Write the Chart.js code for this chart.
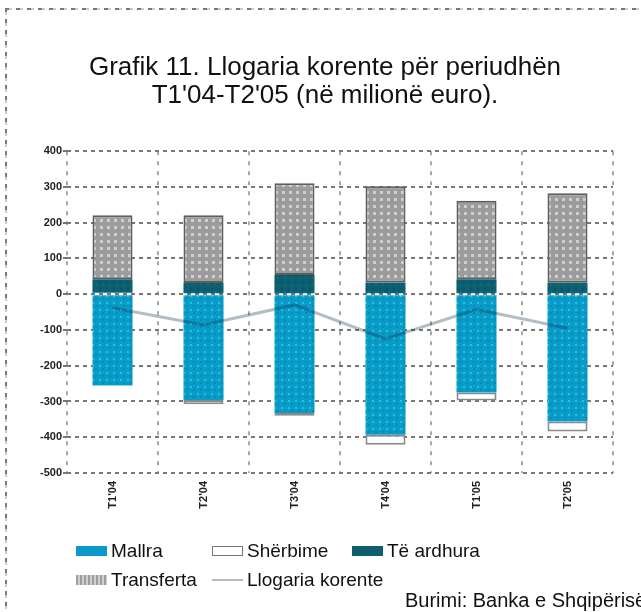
<!DOCTYPE html>
<html>
<head>
<meta charset="utf-8">
<script src="https://cdn.jsdelivr.net/npm/chart.js@4"></script>
<style>
html, body { margin: 0; padding: 0; background: #fff; overflow: hidden; }
#wrap { position: relative; width: 641px; height: 612px; overflow: hidden; font-family: "Liberation Sans", Arial, sans-serif; }
#chart { position: absolute; left: 0; top: 0; }
.frameTop { position: absolute; left: 5px; top: 8px; width: 640px; height: 2px;
  background: repeating-linear-gradient(90deg, #777 0 4px, #ccc 4px 7px, #fff 7px 11px); }
.frameLeft { position: absolute; left: 5px; top: 8px; width: 2px; height: 610px;
  background: repeating-linear-gradient(180deg, #777 0 4px, #ccc 4px 7px, #fff 7px 11px); }
.leg { position: absolute; font-size: 19px; color: #111; white-space: nowrap; }
.sw { position: absolute; width: 31px; height: 10px; }
#source { position: absolute; left: 405px; top: 589px; font-size: 20px; color: #111; white-space: nowrap; }
</style>
</head>
<body>
<div id="wrap">
  <canvas id="chart" width="641" height="612"></canvas>
  <div class="frameTop"></div>
  <div class="frameLeft"></div>
  <div id="legend"></div>
  <div id="source">Burimi: Banka e Shqipërisë</div>
</div>
<script>
// te dhenat (milione euro)
var periods = ["T1'04", "T2'04", "T3'04", "T4'04", "T1'05", "T2'05"];
var mallra = [-255, -296, -332, -393, -275, -356];
var sherbime = [4, -12, -8, -28, -22, -28];
var teArdhura = [38, 31, 54, 33, 42, 32];
var transferta = [179, 190, 256, 269, 219, 250];
var llogariaKorente = [-38, -86, -30, -125, -42, -95];
var yMin = -500, yMax = 400, yStep = 100;

function makePattern(base, spots, size) {
  var c = document.createElement("canvas");
  c.width = size; c.height = size;
  var g = c.getContext("2d");
  g.fillStyle = base;
  g.fillRect(0, 0, size, size);
  spots.forEach(function(s) {
    g.fillStyle = s[0];
    g.fillRect(s[1], s[2], s[3], s[4]);
  });
  return g.createPattern(c, "repeat");
}

var ctx = document.getElementById("chart").getContext("2d");
var cyanFill = makePattern("#0a9acb", [["#12cfd6", 1, 1, 2, 2], ["#0b8d9c", 4, 4, 2, 2]], 7);
var tealFill = makePattern("#0b5f6f", [["#0a4d86", 1, 1, 2, 2], ["#0e6f73", 4, 4, 2, 2]], 7);
var greyFill = makePattern("#9c9c9c", [["#cfcfcf", 2, 2, 3, 3]], 7);

var chart = new Chart(ctx, {
  type: "bar",
  data: {
    labels: periods,
    datasets: [
      { label: "Llogaria korente", type: "line", data: llogariaKorente, stack: "cur", order: 0,
        borderColor: "rgba(20,50,70,0.32)", borderWidth: 3, pointRadius: 0, tension: 0, fill: false },
      { label: "Mallra", data: mallra, backgroundColor: cyanFill, borderWidth: 0, order: 1 },
      { label: "Shërbime", data: sherbime, backgroundColor: "#ffffff", borderColor: "#8a8a8a", borderWidth: 2, order: 1 },
      { label: "Të ardhura", data: teArdhura, backgroundColor: tealFill, borderWidth: 0, order: 1 },
      { label: "Transferta", data: transferta, backgroundColor: greyFill, borderColor: "#5e5e5e", borderWidth: 2, order: 1 }
    ]
  },
  options: {
    responsive: false,
    animation: false,
    layout: { padding: { left: 37, right: 28, top: 54, bottom: 89 } },
    datasets: { bar: { barPercentage: 0.44, categoryPercentage: 1, borderSkipped: false } },
    plugins: {
      legend: { display: false },
      tooltip: { enabled: false },
      title: {
        display: true,
        text: ["Grafik 11. Llogaria korente për periudhën", "T1'04-T2'05 (në milionë euro)."],
        color: "#111",
        font: { family: "Liberation Sans", size: 26, weight: "normal", lineHeight: 1.08 },
        padding: { top: 0, bottom: 41 }
      }
    },
    scales: {
      x: {
        stacked: true,
        offset: true,
        grid: { offset: true, color: "#a8a8a8", lineWidth: 2, drawTicks: false },
        border: { display: false, dash: [4, 6] },
        ticks: { minRotation: 90, maxRotation: 90, color: "#222", padding: 8,
          font: { family: "Liberation Sans", size: 11, weight: "bold" } },
        afterFit: function(scale) { scale.height = 50; }
      },
      y: {
        stacked: true,
        min: yMin, max: yMax,
        grid: { color: "#777", lineWidth: 2, tickLength: 4 },
        border: { display: false, dash: [4, 4] },
        ticks: { stepSize: yStep, color: "#222", padding: 1,
          font: { family: "Liberation Sans", size: 11, weight: "bold" } },
        afterFit: function(scale) { scale.width = 30; }
      }
    }
  }
});

// legjenda
var legendItems = [
  { ds: 1, x: 76, y: 551 }, { ds: 2, x: 212, y: 551 }, { ds: 3, x: 352, y: 551 },
  { ds: 4, x: 76, y: 580 }, { ds: 0, x: 212, y: 580 }
];
var legendBox = document.getElementById("legend");
legendItems.forEach(function(it) {
  var d = chart.data.datasets[it.ds];
  var sw = document.createElement("div");
  sw.className = "sw";
  sw.style.left = it.x + "px";
  sw.style.top = (it.y - 5) + "px";
  if (d.type === "line") {
    sw.style.height = "2px";
    sw.style.top = (it.y - 1) + "px";
    sw.style.background = "#b5bcc0";
  } else if (d.label === "Shërbime") {
    sw.style.background = "#fff";
    sw.style.border = "1px solid #777";
    sw.style.width = "29px"; sw.style.height = "8px";
  } else if (d.label === "Mallra") {
    sw.style.background = "#0a9acb";
  } else if (d.label === "Të ardhura") {
    sw.style.background = "#0b5f6f";
  } else {
    sw.style.background = "repeating-linear-gradient(90deg,#9c9c9c 0 2px,#cfcfcf 2px 4px)";
  }
  legendBox.appendChild(sw);
  var t = document.createElement("div");
  t.className = "leg";
  t.textContent = d.label;
  t.style.left = (it.x + 35) + "px";
  t.style.top = (it.y - 11) + "px";
  legendBox.appendChild(t);
});
</script>
</body>
</html>
